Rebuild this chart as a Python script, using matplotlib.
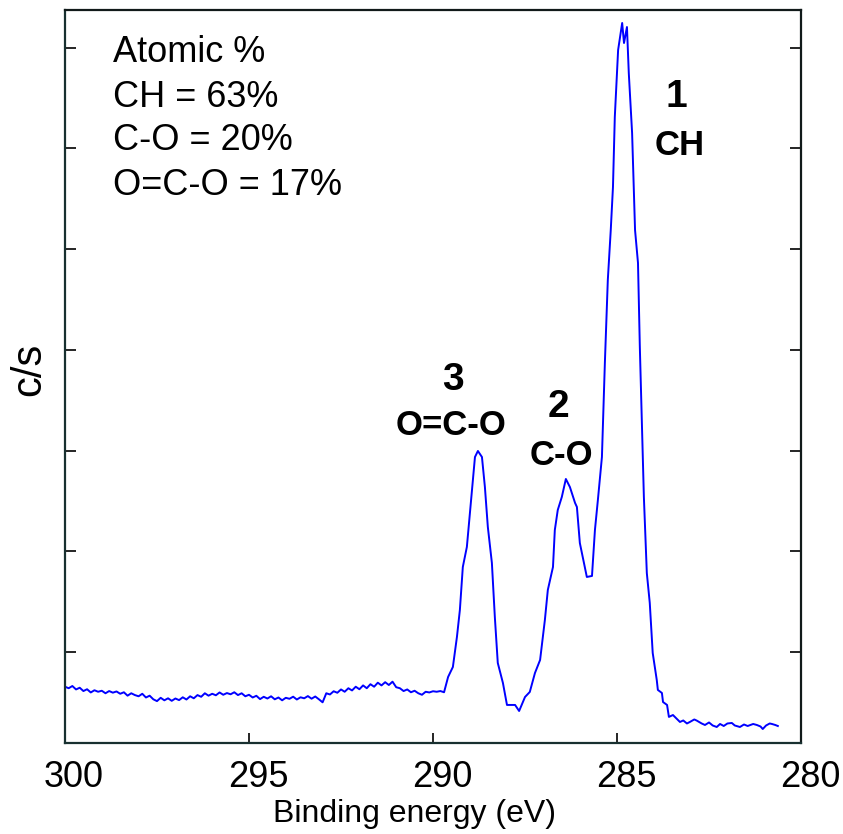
import numpy as np
import matplotlib
matplotlib.use('Agg')
import matplotlib.pyplot as plt
from matplotlib.transforms import ScaledTranslation

plt.rcParams['font.family'] = ['Liberation Sans', 'DejaVu Sans']

# C 1s spectrum, baseline part (binding energy in eV, counts in c/s)
be_base = [300.0, 299.9, 299.8, 299.7, 299.6, 299.5, 299.4, 299.3, 299.2, 299.1,
           299.0, 298.9, 298.8, 298.7, 298.6, 298.5, 298.4, 298.3, 298.2, 298.1,
           298.0, 297.9, 297.8, 297.7, 297.6, 297.5, 297.4, 297.3, 297.2, 297.1,
           297.0, 296.9, 296.8, 296.7, 296.6, 296.5, 296.4, 296.3, 296.2, 296.1,
           296.0, 295.9, 295.8, 295.7, 295.6, 295.5, 295.4, 295.3, 295.2, 295.1,
           295.0, 294.9, 294.8, 294.7, 294.6, 294.5, 294.4, 294.3, 294.2, 294.1,
           294.0, 293.9, 293.8, 293.7, 293.6, 293.5, 293.4, 293.3, 293.2, 293.1,
           293.0, 292.9, 292.8, 292.7, 292.6, 292.5, 292.4, 292.3, 292.2, 292.1,
           292.0, 291.9, 291.8, 291.7, 291.6, 291.5, 291.4, 291.3, 291.2, 291.1,
           291.0, 290.9, 290.8, 290.7, 290.6, 290.5, 290.4, 290.3, 290.2, 290.1,
           290.0, 289.9, 289.8, 289.7]
cps_base = [655, 640, 662, 628, 645, 612, 630, 598, 620, 605,
            615, 590, 612, 596, 608, 585, 600, 566, 590, 572,
            560, 585, 548, 566, 530, 512, 545, 520, 540, 515,
            538, 522, 550, 528, 560, 540, 572, 555, 590, 566,
            585, 570, 598, 575, 592, 580, 600, 572, 590, 560,
            575, 548, 565, 532, 555, 538, 560, 530, 548, 520,
            545, 535, 556, 528, 550, 540, 562, 536, 558, 530,
            500, 590, 578, 610, 595, 628, 605, 640, 618, 655,
            630, 668, 640, 680, 655, 695, 668, 700, 672, 705,
            650, 640, 612, 628, 600, 615, 590, 575, 605, 598,
            610, 605, 612, 600]

# peaks 3 (O=C-O), 2 (C-O), 1 (CH) and the low energy tail
be_peak = [289.59, 289.46, 289.35, 289.27, 289.19, 289.08, 288.94, 288.86, 288.78, 288.67,
           288.59, 288.51, 288.40, 288.32, 288.24, 288.10, 287.99, 287.77, 287.66, 287.50,
           287.37, 287.23, 287.09, 286.96, 286.88, 286.74, 286.69, 286.61, 286.50, 286.39,
           286.28, 286.14, 286.09, 286.01, 285.82, 285.68, 285.60, 285.52, 285.41, 285.33,
           285.25, 285.17, 285.11, 285.06, 284.97, 284.86, 284.81, 284.73, 284.68, 284.59,
           284.51, 284.43, 284.38, 284.32, 284.27, 284.19, 284.11, 284.03, 283.92, 283.89,
           283.78, 283.75, 283.64, 283.59, 283.48, 283.29, 283.20, 283.10, 283.02, 282.90,
           282.83, 282.70, 282.61, 282.50, 282.40, 282.29, 282.20, 282.10, 282.00, 281.88,
           281.80, 281.66, 281.55, 281.45, 281.30, 281.20, 281.10, 281.04, 280.95, 280.85,
           280.79, 280.70, 280.63]
cps_peak = [752, 851, 1149, 1417, 1844, 2043, 2609, 2936, 2996, 2936,
            2638, 2241, 1884, 1348, 891, 692, 474, 474, 414, 553,
            603, 791, 921, 1318, 1616, 1844, 2211, 2410, 2539, 2718,
            2638, 2480, 2440, 2082, 1745, 1755, 2211, 2509, 2936, 3870,
            4694, 5190, 5617, 6313, 6978, 7246, 7047, 7206, 6749, 6154,
            5190, 4863, 4029, 3204, 2539, 1784, 1487, 990, 722, 623,
            593, 503, 474, 355, 374, 305, 320, 290, 305, 330,
            318, 290, 275, 300, 270, 255, 285, 265, 290, 295,
            270, 255, 280, 265, 285, 275, 260, 235, 270, 290,
            285, 275, 265]

be = be_base + be_peak
cps = cps_base + cps_peak

atomic_lines = ['Atomic %', 'CH = 63%', 'C-O = 20%', 'O=C-O = 17%']
peak_nums = ['1', '2', '3']
peak_names = ['CH', 'C-O', 'O=C-O']

fig = plt.figure(figsize=(8.43, 8.34), dpi=100)
ax = fig.add_axes([0.0771, 0.1091, 0.8731, 0.8789])

ax.plot(be, cps, color='#0000ff', lw=1.4)

ax.set_xlim(300, 280)
ax.set_ylim(96, 7375)
ax.set_xticks([300, 295, 290, 285, 280])
ax.set_yticks([1000, 2000, 3000, 4000, 5000, 6000, 7000])
ax.set_yticklabels([])
ax.tick_params(axis='x', direction='in', length=7, width=1.2, labelsize=26, pad=12, top=False)
ax.tick_params(axis='y', direction='in', length=8, width=1.2, left=True, right=True)
for s in ax.spines.values():
    s.set_linewidth(1.6)
    s.set_color('#111a1a')
ax.spines['left'].set_color('#183030')
ax.spines['bottom'].set_color('#183030')

# tick labels sit a little right of their ticks in the original
shift = ScaledTranslation(9 / 100, 0, fig.dpi_scale_trans)
for lbl in ax.get_xticklabels():
    lbl.set_transform(lbl.get_transform() + shift)

ax.set_xlabel('Binding energy (eV)', fontsize=23)
ax.xaxis.set_label_coords(0.4755, -0.0765)
ax.set_ylabel('c/s', fontsize=30)
ax.yaxis.set_label_coords(-0.022, 0.510)

# atomic % block
y_lines = [6859, 6412, 5985, 5538]
for txt, yy in zip(atomic_lines, y_lines):
    ax.text(298.70, yy, txt, fontsize=26, ha='left', va='baseline')

# peak labels
num_pos = [(283.40, 6412), (286.60, 3334), (289.46, 3602)]
name_pos = [(283.29, 5935), (286.52, 2857), (289.51, 3155)]
for n, (xx, yy) in zip(peak_nums, num_pos):
    ax.text(xx, yy, n, fontsize=28, fontweight='bold', ha='center', va='baseline')
for n, (xx, yy) in zip(peak_names, name_pos):
    ax.text(xx, yy, n, fontsize=25, fontweight='bold', ha='center', va='baseline')

fig.savefig('out.png', dpi=100)
